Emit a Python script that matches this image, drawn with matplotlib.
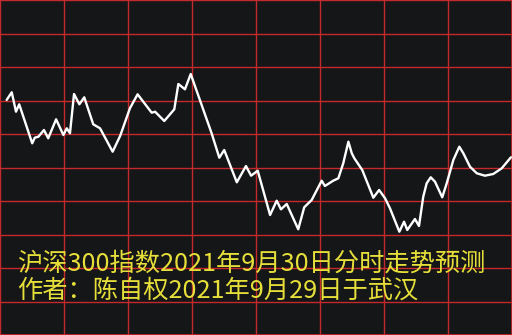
import matplotlib
matplotlib.use("Agg")
import matplotlib.pyplot as plt

plt.rcParams['font.family'] = ['Noto Sans CJK SC', 'DejaVu Sans']

# minutes into the trading day (0-240) and a relative index level
minutes = [3.1, 5.5, 7.5, 9.0, 15.1, 16.3, 18.0, 20.6, 22.6, 26.3, 29.7, 31.3,
           32.8, 34.7, 37.2, 39.5, 43.7, 46.9, 52.8, 56.3, 60.9, 64.5, 71.1,
           72.7, 77.0, 81.7, 83.6, 86.7, 89.4, 99.2, 102.8, 105.1, 111.0, 115.3,
           117.7, 120.8, 126.6, 129.7, 131.7, 134.4, 139.8, 142.6, 146.1, 150.8,
           152.3, 156.2, 158.6, 160.9, 163.3, 164.9, 166.1, 169.8, 175.0, 177.7,
           180.5, 182.8, 187.2, 189.4, 190.9, 194.5, 196.4, 198.4, 200.0, 201.9,
           203.9, 207.3, 209.4, 212.5, 215.3, 217.2, 220.3, 223.5, 227.3, 231.2,
           235.2, 239.5]
level = [235, 242.7, 223.3, 230.7, 191.7, 197.3, 198.3, 205, 196.7, 215.7, 200,
         206.7, 201.7, 241, 230.7, 237.7, 210.7, 206.7, 183.3, 199, 226.7, 240.7,
         222.3, 223.3, 214, 225.7, 251, 245.7, 261, 201.7, 177.3, 185, 152.7, 169,
         159.3, 164.3, 120, 134.3, 125.7, 131, 105.7, 127.7, 135, 154.3, 149,
         154.3, 156.7, 171.7, 193.3, 181.7, 176.7, 165, 137.3, 145, 136.7, 126.7,
         103.3, 113.3, 105, 116, 109, 138.3, 151.7, 157.7, 153.3, 137.7, 151.7,
         175, 188.3, 181.7, 168.3, 161.7, 159.3, 161, 166.7, 177.7]

line1 = "沪深300指数2021年9月30日分时走势预测"
line2 = "作者：陈自权2021年9月29日于武汉"

bg = '#151618'
grid_red = '#c4292b'
yellow = '#e6df3a'

fig = plt.figure(figsize=(5.12, 3.35), dpi=100, facecolor=bg)
ax = fig.add_axes([0, 0, 1, 1])
ax.set_facecolor(bg)
ax.set_xlim(0, 240)
ax.set_ylim(0, 335)

# red grid: 8 half-hour columns, 10 rows
for i in range(9):
    ax.axvline(i * 30, color=grid_red, lw=1.0, zorder=1)
for j in range(11):
    ax.axhline(j * 33.5, color=grid_red, lw=1.0, zorder=1)
ax.axvline(0.2, color=grid_red, lw=1.2, zorder=1)
ax.axvline(239.8, color=grid_red, lw=1.2, zorder=1)
ax.axhline(0.3, color=grid_red, lw=1.2, zorder=1)
ax.axhline(334.7, color=grid_red, lw=1.2, zorder=1)

ax.plot(minutes, level, color='white', lw=1.7, solid_joinstyle='round',
        solid_capstyle='round', zorder=3)

ax.set_xticks([])
ax.set_yticks([])
for s in ax.spines.values():
    s.set_visible(False)

fig.text(17 / 512, 1 - 264 / 335, line1, color=yellow, fontsize=18.2,
         ha='left', va='center')
fig.text(17 / 512, 1 - 291 / 335, line2, color=yellow, fontsize=18.2,
         ha='left', va='center')

fig.savefig('out.png', dpi=100, facecolor=bg)
